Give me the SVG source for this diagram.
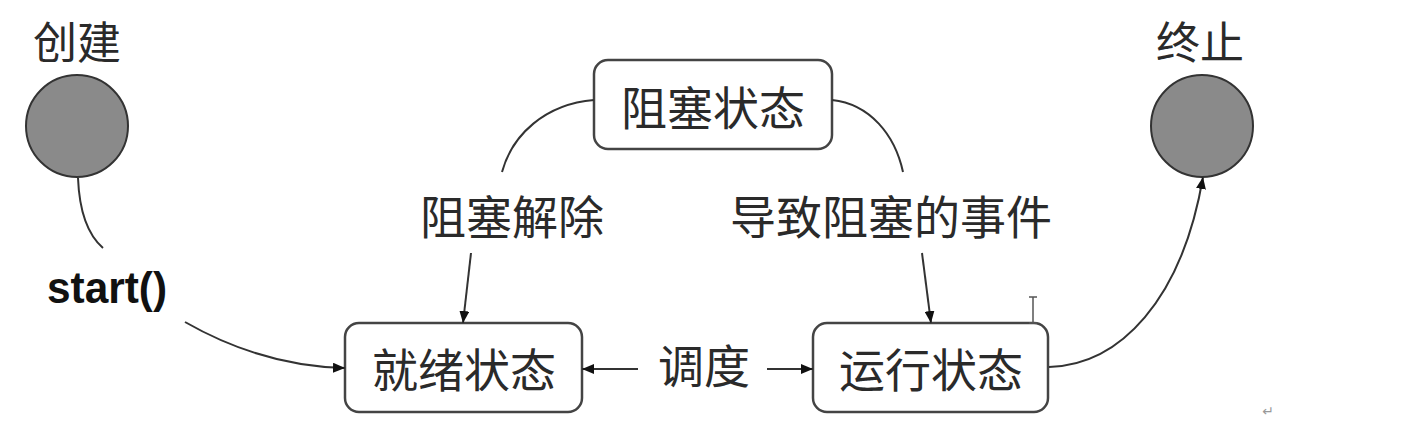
<svg xmlns="http://www.w3.org/2000/svg" width="1406" height="442" viewBox="0 0 1406 442">
<style>
.cjk{font-family:"Noto Sans CJK SC","Noto Sans CJK JP",sans-serif;fill:#2a2a2a;text-anchor:middle}
.box{fill:#fff;stroke:#444;stroke-width:2.5}
.term{fill:#8a8a8a;stroke:#333;stroke-width:2}
.edge{fill:none;stroke:#333;stroke-width:2}
</style>
<defs>
<marker id="ah" viewBox="0 0 12 10" refX="12" refY="5" markerWidth="12" markerHeight="10" markerUnits="userSpaceOnUse" orient="auto">
<path d="M0,0 L12,5 L0,10 Z" fill="#111"/>
</marker>
</defs>
<rect width="1406" height="442" fill="#fff"/>
<g id="create">
<circle class="term" cx="77" cy="126" r="51"/>
<text class="cjk" x="77" y="59" font-size="44">创建</text>
</g>
<g id="terminate">
<circle class="term" cx="1202" cy="126" r="51"/>
<text class="cjk" x="1200" y="59" font-size="44">终止</text>
</g>
<g id="blocked">
<rect class="box" x="594" y="60" width="238" height="89" rx="14"/>
<text class="cjk" x="713" y="125" font-size="46">阻塞状态</text>
</g>
<g id="ready">
<rect class="box" x="345" y="323" width="237" height="89" rx="14"/>
<text class="cjk" x="464" y="387" font-size="46">就绪状态</text>
</g>
<g id="running">
<rect class="box" x="813" y="323" width="235" height="89" rx="14"/>
<text class="cjk" x="931" y="387" font-size="46">运行状态</text>
</g>
<g id="connectors">
<path class="edge" d="M78,178 Q80,228 103,248"/>
<path class="edge" d="M185,322 Q262,366 345,368" marker-end="url(#ah)"/>
<path class="edge" d="M594,100 C545,104 512,135 502,172"/>
<path class="edge" d="M471,253 L463,323" marker-end="url(#ah)"/>
<path class="edge" d="M832,100 C870,104 895,135 903,172"/>
<path class="edge" d="M922,253 L931,323" marker-end="url(#ah)"/>
<path class="edge" d="M638,369 L582,369" marker-end="url(#ah)"/>
<path class="edge" d="M767,369 L813,369" marker-end="url(#ah)"/>
<path class="edge" d="M1049,367 C1120,365 1182,300 1203,177" marker-end="url(#ah)"/>
<text x="47" y="303" font-family="Liberation Sans, Arial, sans-serif" font-size="44" font-weight="bold" fill="#111" textLength="120" lengthAdjust="spacingAndGlyphs">start()</text>
<text class="cjk" x="512" y="234" font-size="46">阻塞解除</text>
<text class="cjk" x="891" y="234" font-size="46">导致阻塞的事件</text>
<text class="cjk" x="704" y="383" font-size="46">调度</text>
</g>
<path d="M1029,297 h8 M1033,297 v26 M1029,323 h8" stroke="#555" stroke-width="1.5" fill="none"/>
<text x="1268" y="416" font-family="DejaVu Sans, sans-serif" font-size="14" fill="#999" text-anchor="middle">↵</text>
</svg>
